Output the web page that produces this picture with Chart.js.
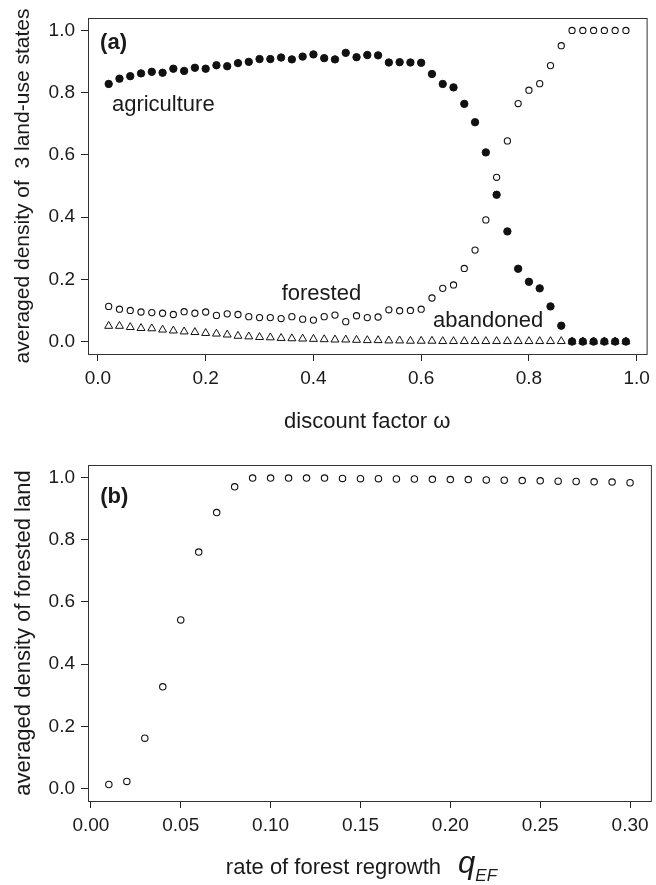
<!DOCTYPE html>
<html>
<head>
<meta charset="utf-8">
<script src="https://cdn.jsdelivr.net/npm/chart.js@4.4.1/dist/chart.umd.min.js"></script>
<style>
  html, body { margin: 0; padding: 0; background: #fff; }
  #wrap { position: relative; width: 656px; height: 885px; }
  .panel { position: absolute; left: 0; width: 656px; }
  #boxA { top: 0; height: 440px; }
  #boxB { top: 440px; height: 445px; }
</style>
</head>
<body>
<div id="wrap">
  <div class="panel" id="boxA"><canvas id="chartA"></canvas></div>
  <div class="panel" id="boxB"><canvas id="chartB"></canvas></div>
</div>
<script>
// ---- panel (a): density of the 3 land-use states vs discount factor ----
const omega = [0.02, 0.04, 0.06, 0.08, 0.10, 0.12, 0.14, 0.16, 0.18, 0.20,
               0.22, 0.24, 0.26, 0.28, 0.30, 0.32, 0.34, 0.36, 0.38, 0.40,
               0.42, 0.44, 0.46, 0.48, 0.50, 0.52, 0.54, 0.56, 0.58, 0.60,
               0.62, 0.64, 0.66, 0.68, 0.70, 0.72, 0.74, 0.76, 0.78, 0.80,
               0.82, 0.84, 0.86, 0.88, 0.90, 0.92, 0.94, 0.96, 0.98];
const agriculture = [0.828, 0.845, 0.853, 0.862, 0.867, 0.864, 0.877, 0.870, 0.880, 0.877,
                     0.888, 0.885, 0.895, 0.899, 0.908, 0.908, 0.913, 0.907, 0.916, 0.923,
                     0.911, 0.907, 0.928, 0.914, 0.921, 0.920, 0.897, 0.898, 0.897, 0.896,
                     0.860, 0.828, 0.817, 0.764, 0.705, 0.608, 0.472, 0.354, 0.234, 0.192,
                     0.171, 0.113, 0.051, 0, 0, 0, 0, 0, 0];
const forested = [0.113, 0.104, 0.100, 0.095, 0.093, 0.091, 0.087, 0.096, 0.091, 0.095,
                  0.084, 0.089, 0.087, 0.080, 0.077, 0.077, 0.074, 0.080, 0.072, 0.069,
                  0.080, 0.085, 0.064, 0.083, 0.077, 0.079, 0.102, 0.099, 0.100, 0.104,
                  0.140, 0.171, 0.182, 0.235, 0.294, 0.391, 0.528, 0.645, 0.765, 0.808,
                  0.829, 0.887, 0.951, 1.0, 1.0, 1.0, 1.0, 1.0, 1.0];
const abandoned = [0.050, 0.050, 0.046, 0.043, 0.042, 0.038, 0.035, 0.032, 0.030, 0.027,
                   0.025, 0.022, 0.018, 0.016, 0.014, 0.013, 0.011, 0.010, 0.009, 0.008,
                   0.007, 0.006, 0.006, 0.005, 0.004, 0.004, 0.003, 0.003, 0.002, 0.002,
                   0.002, 0.001, 0.001, 0.001, 0.001, 0.001, 0.001, 0.001, 0.001, 0.001,
                   0.001, 0.001, 0.001, 0, 0, 0, 0, 0, 0];
const omegaTicks = [0, 0.2, 0.4, 0.6, 0.8, 1.0];
const omegaTickLabels = ['0.0', '0.2', '0.4', '0.6', '0.8', '1.0'];

// ---- panel (b): forested density vs rate of forest regrowth ----
const regrowth = [0.01, 0.02, 0.03, 0.04, 0.05, 0.06, 0.07, 0.08, 0.09, 0.10,
                  0.11, 0.12, 0.13, 0.14, 0.15, 0.16, 0.17, 0.18, 0.19, 0.20,
                  0.21, 0.22, 0.23, 0.24, 0.25, 0.26, 0.27, 0.28, 0.29, 0.30];
const forestedB = [0.013, 0.023, 0.162, 0.327, 0.542, 0.760, 0.887, 0.970, 0.998, 0.998,
                   0.998, 0.998, 0.998, 0.997, 0.996, 0.996, 0.995, 0.995, 0.994, 0.993,
                   0.993, 0.992, 0.991, 0.990, 0.989, 0.988, 0.987, 0.986, 0.985, 0.983];
const regrowthTicks = [0, 0.05, 0.10, 0.15, 0.20, 0.25, 0.30];
const regrowthTickLabels = ['0.00', '0.05', '0.10', '0.15', '0.20', '0.25', '0.30'];

const densityTicks = [0, 0.2, 0.4, 0.6, 0.8, 1.0];
const densityTickLabels = ['0.0', '0.2', '0.4', '0.6', '0.8', '1.0'];

const FONT = '"Liberation Sans", Arial, Helvetica, sans-serif';
const INK = '#1a1a1a';

const pts = (xs, ys) => xs.map((x, i) => ({ x: x, y: ys[i] }));

function axis(min, max, ticks, labels, title, fit) {
  return {
    type: 'linear',
    min: min,
    max: max,
    afterBuildTicks: s => { s.ticks = ticks.map(v => ({ value: v })); },
    afterFit: fit,
    ticks: {
      autoSkip: false,
      maxRotation: 0,
      color: INK,
      font: { family: FONT, size: 19 },
      padding: 6,
      callback: (v, i) => labels[i]
    },
    grid: { drawOnChartArea: false, drawTicks: true, tickLength: 7, color: '#222', lineWidth: 1 },
    border: { display: true, color: '#222', width: 1 },
    title: title
  };
}

// box around plot area, like R's bty="o"
const frame = {
  id: 'frame',
  afterDraw(chart) {
    const { ctx, chartArea: a } = chart;
    ctx.save();
    ctx.strokeStyle = '#333';
    ctx.lineWidth = 1;
    ctx.strokeRect(a.left + 0.5, a.top + 0.5, a.right - a.left, a.bottom - a.top);
    ctx.restore();
  }
};

// text notes placed in data coordinates
function notes(list) {
  return {
    id: 'notes',
    afterDraw(chart) {
      const ctx = chart.ctx;
      const sx = chart.scales.x, sy = chart.scales.y;
      ctx.save();
      ctx.fillStyle = INK;
      ctx.textBaseline = 'alphabetic';
      ctx.textAlign = 'left';
      list.forEach(n => {
        ctx.font = n.font;
        ctx.fillText(n.text, sx.getPixelForValue(n.x), sy.getPixelForValue(n.y));
      });
      ctx.restore();
    }
  };
}

const common = {
  responsive: true,
  maintainAspectRatio: false,
  animation: false,
  events: [],
  plugins: { legend: { display: false }, tooltip: { enabled: false } }
};

new Chart(document.getElementById('chartA'), {
  type: 'scatter',
  data: {
    datasets: [
      { label: 'agriculture', data: pts(omega, agriculture), pointStyle: 'circle', order: 2,
        pointRadius: 3.7, backgroundColor: '#111', borderColor: '#111', borderWidth: 1 },
      { label: 'forested', data: pts(omega, forested), pointStyle: 'circle', order: 1,
        pointRadius: 3.1, backgroundColor: 'rgba(0,0,0,0)', borderColor: '#111', borderWidth: 1.1 },
      { label: 'abandoned', data: pts(omega, abandoned), pointStyle: 'triangle', order: 0,
        pointRadius: 4.6, backgroundColor: 'rgba(0,0,0,0)', borderColor: '#111', borderWidth: 1 }
    ]
  },
  options: Object.assign({}, common, {
    layout: { padding: { left: 0, right: 5, top: 18, bottom: 0 } },
    scales: {
      x: axis(-0.0184, 1.0184, omegaTicks, omegaTickLabels,
        { display: true, text: 'discount factor \u03c9', color: INK,
          font: { family: FONT, size: 22 }, padding: { top: 0, bottom: 5 } },
        s => { s.height = 86; }),
      y: axis(-0.04, 1.04, densityTicks, densityTickLabels,
        { display: true, text: 'averaged density of  3 land-use states', color: INK,
          font: { family: FONT, size: 21 }, padding: { top: 11, bottom: 0 } },
        s => { s.width = 88; })
    }
  }),
  plugins: [frame, notes([
    { text: '(a)', x: 0.004, y: 0.941, font: 'bold 22px ' + FONT },
    { text: 'agriculture', x: 0.026, y: 0.7425, font: '22px ' + FONT },
    { text: 'forested', x: 0.341, y: 0.132, font: '22px ' + FONT },
    { text: 'abandoned', x: 0.622, y: 0.048, font: '22px ' + FONT }
  ])]
});

// x title with italic q and subscript EF
const qTitle = {
  id: 'qTitle',
  afterDraw(chart) {
    const ctx = chart.ctx, a = chart.chartArea;
    const main = 'rate of forest regrowth';
    ctx.save();
    ctx.fillStyle = INK;
    ctx.textBaseline = 'alphabetic';
    ctx.textAlign = 'left';
    ctx.font = '22px ' + FONT;
    const w1 = ctx.measureText(main).width;
    ctx.font = 'italic 31px ' + FONT;
    const wq = ctx.measureText('q').width;
    ctx.font = 'italic 17px ' + FONT;
    const we = ctx.measureText('EF').width;
    const gap = 17;
    let x = (a.left + a.right) / 2 - 8 - (w1 + gap + wq + we) / 2;
    const base = a.bottom + 73;
    ctx.font = '22px ' + FONT;
    ctx.fillText(main, x, base);
    x += w1 + gap;
    ctx.font = 'italic 31px ' + FONT;
    ctx.fillText('q', x, base - 1);
    x += wq;
    ctx.font = 'italic 17px ' + FONT;
    ctx.fillText('EF', x, base + 7);
    ctx.restore();
  }
};

new Chart(document.getElementById('chartB'), {
  type: 'scatter',
  data: {
    datasets: [
      { label: 'forested', data: pts(regrowth, forestedB), pointStyle: 'circle',
        pointRadius: 3.2, backgroundColor: 'rgba(0,0,0,0)', borderColor: '#111', borderWidth: 1.1 }
    ]
  },
  options: Object.assign({}, common, {
    layout: { padding: { left: 0, right: 4, top: 25, bottom: 0 } },
    scales: {
      x: axis(-0.0016, 0.3116, regrowthTicks, regrowthTickLabels, { display: false },
        s => { s.height = 84; }),
      y: axis(-0.04, 1.04, densityTicks, densityTickLabels,
        { display: true, text: 'averaged density of forested land', color: INK,
          font: { family: FONT, size: 22 }, padding: { top: 11, bottom: 0 } },
        s => { s.width = 88; })
    }
  }),
  plugins: [frame, qTitle, notes([
    { text: '(b)', x: 0.0052, y: 0.919, font: 'bold 22px ' + FONT }
  ])]
});
</script>
</body>
</html>
